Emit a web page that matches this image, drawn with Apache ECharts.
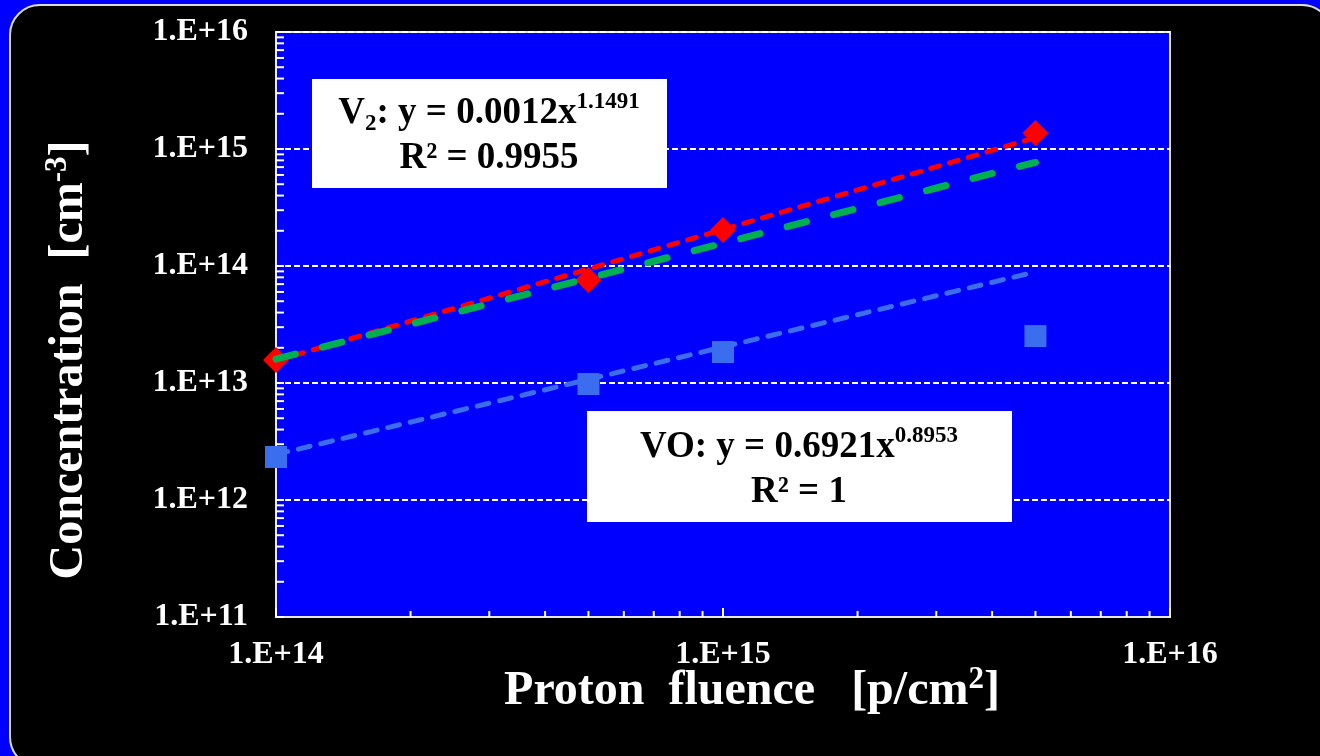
<!DOCTYPE html>
<html>
<head>
<meta charset="utf-8">
<script src="https://cdn.jsdelivr.net/npm/echarts@6/dist/echarts.min.js"></script>
<style>
html,body{margin:0;padding:0;background:#0000FF;}
#chart{width:1320px;height:756px;}
</style>
</head>
<body>
<div id="chart"></div>
<script>
// ---- data ----
const fluence = [1e14, 5e14, 1e15, 5e15];
const v2Conc = [1.57e13, 7.6e13, 2.03e14, 1.37e15];
const voConc = [2.33e12, 9.8e12, 1.84e13, 2.52e13];
const trendX = [1e14, 5e15];
const v2Trend = [1.55e13, 1.25e15];
const greenTrend = [1.6e13, 7.7e14];
const voTrend = [2.45e12, 8.9e13];
const xTickLabels = ['1.E+14', '1.E+15', '1.E+16'];
const yTickLabels = ['1.E+11', '1.E+12', '1.E+13', '1.E+14', '1.E+15', '1.E+16'];
const xMinorTicks = [2e14,3e14,4e14,5e14,6e14,7e14,8e14,9e14,2e15,3e15,4e15,5e15,6e15,7e15,8e15,9e15];
const yMinorTicks = [];
[1e11,1e12,1e13,1e14,1e15].forEach(d => { [2,3,4,5,6,7,8,9].forEach(m => yMinorTicks.push(m*d)); });
const xMin = 1e14, xMax = 1e16, yMin = 1e11, yMax = 1e16;

const FONT = '"Times New Roman", "Liberation Serif", serif';
const pair = (xs, ys) => xs.map((x, i) => [x, ys[i]]);

const chart = echarts.init(document.getElementById('chart'), null, {renderer: 'canvas'});
const boxText = {
  m: {fontFamily: FONT, fontWeight: 'bold', fontSize: 37, lineHeight: 45, fill: '#000'},
  sup: {fontFamily: FONT, fontWeight: 'bold', fontSize: 23, lineHeight: 30, verticalAlign: 'top', fill: '#000'},
  sub: {fontFamily: FONT, fontWeight: 'bold', fontSize: 23, lineHeight: 24, verticalAlign: 'bottom', fill: '#000'}
};
const titleRich = {
  t: {fontFamily: FONT, fontWeight: 'bold', fontSize: 48, lineHeight: 56, fill: '#fff'},
  s: {fontFamily: FONT, fontWeight: 'bold', fontSize: 31, lineHeight: 40, verticalAlign: 'top', fill: '#fff'}
};

chart.setOption({
  backgroundColor: '#0000FF',
  animation: false,
  grid: {left: 276, top: 32, right: 150, bottom: 139, show: true, backgroundColor: '#0000FF', borderColor: '#e6e6e6', borderWidth: 2},
  xAxis: {
    type: 'log', logBase: 10, min: xMin, max: xMax, splitNumber: 2,
    axisLine: {show: true, lineStyle: {color: '#e6e6e6', width: 2}},
    axisTick: {show: true, inside: true, length: 9, lineStyle: {color: '#fff', width: 2}},
    splitLine: {show: false},
    axisLabel: {color: '#fff', fontFamily: FONT, fontWeight: 'bold', fontSize: 32, margin: 22,
      formatter: (v, i) => xTickLabels[i]}
  },
  yAxis: {
    type: 'log', logBase: 10, min: yMin, max: yMax, splitNumber: 5,
    axisLine: {show: true, lineStyle: {color: '#e6e6e6', width: 2}},
    axisTick: {show: true, inside: true, length: 8, lineStyle: {color: '#fff', width: 2}},
    splitLine: {show: true, lineStyle: {color: '#fff', width: 2, type: [6, 3]}},
    axisLabel: {color: '#fff', fontFamily: FONT, fontWeight: 'bold', fontSize: 32, margin: 28,
      formatter: (v, i) => yTickLabels[i]}
  },
  series: [
    {type: 'custom', silent: true, z: 3, data: yMinorTicks.map(v => [xMin, v]),
     renderItem: (params, api) => {
       const p = api.coord([api.value(0), api.value(1)]);
       return {type: 'line', shape: {x1: p[0], y1: p[1], x2: p[0] + 8, y2: p[1]}, style: {stroke: '#fff', lineWidth: 2}};
     }},
    {type: 'custom', silent: true, z: 3, data: xMinorTicks.map(v => [v, yMin]),
     renderItem: (params, api) => {
       const p = api.coord([api.value(0), api.value(1)]);
       return {type: 'line', shape: {x1: p[0], y1: p[1], x2: p[0], y2: p[1] - 6}, style: {stroke: '#fff', lineWidth: 2}};
     }},
    {name: 'VO', type: 'scatter', symbol: 'rect', symbolSize: 22, z: 4,
     itemStyle: {color: '#3A6EEE', opacity: 1}, data: pair(fluence, voConc)},
    {name: 'V2', type: 'scatter', symbol: 'diamond', symbolSize: 26, z: 4,
     itemStyle: {color: '#FF0000', opacity: 1}, data: pair(fluence, v2Conc)},
    {name: 'VO fit', type: 'line', symbol: 'none', z: 5,
     lineStyle: {color: '#3A6EEE', width: 5, type: [12, 11], cap: 'round'}, data: pair(trendX, voTrend)},
    {name: 'V2 fit', type: 'line', symbol: 'none', z: 5,
     lineStyle: {color: '#FF0000', width: 5, type: [9, 10.5], cap: 'round'}, data: pair(trendX, v2Trend)},
    {name: 'V2 fit 2', type: 'line', symbol: 'none', z: 6,
     lineStyle: {color: '#00B050', width: 7, type: [20, 28], cap: 'round'}, data: pair(trendX, greenTrend)}
  ],
  graphic: [
    {type: 'rect', z: -100, shape: {x: 10, y: 5, width: 1322, height: 762, r: 30},
     style: {fill: '#000', stroke: '#dcdcdc', lineWidth: 2}},
    {type: 'rect', z: 100, shape: {x: 312, y: 79, width: 355, height: 109}, style: {fill: '#fff'}},
    {type: 'text', z: 101, x: 489, y: 136,
     style: {text: '{m|V}{sub|2}{m|: y = 0.0012x}{sup|1.1491}\n{m|R² = 0.9955}', rich: boxText, align: 'center', verticalAlign: 'middle'}},
    {type: 'rect', z: 100, shape: {x: 587, y: 411, width: 425, height: 111}, style: {fill: '#fff'}},
    {type: 'text', z: 101, x: 799, y: 470,
     style: {text: '{m|VO: y = 0.6921x}{sup|0.8953}\n{m|R² = 1}', rich: boxText, align: 'center', verticalAlign: 'middle'}},
    {type: 'text', z: 101, x: 752, y: 692,
     style: {text: '{t|Proton  fluence   [p/cm}{s|2}{t|]}', rich: titleRich, align: 'center', verticalAlign: 'middle'}},
    {type: 'text', z: 101, x: 70, y: 360, rotation: Math.PI / 2,
     style: {text: '{t|Concentration  [cm}{s|-3}{t|]}', rich: titleRich, align: 'center', verticalAlign: 'middle'}}
  ]
});
</script>
</body>
</html>
